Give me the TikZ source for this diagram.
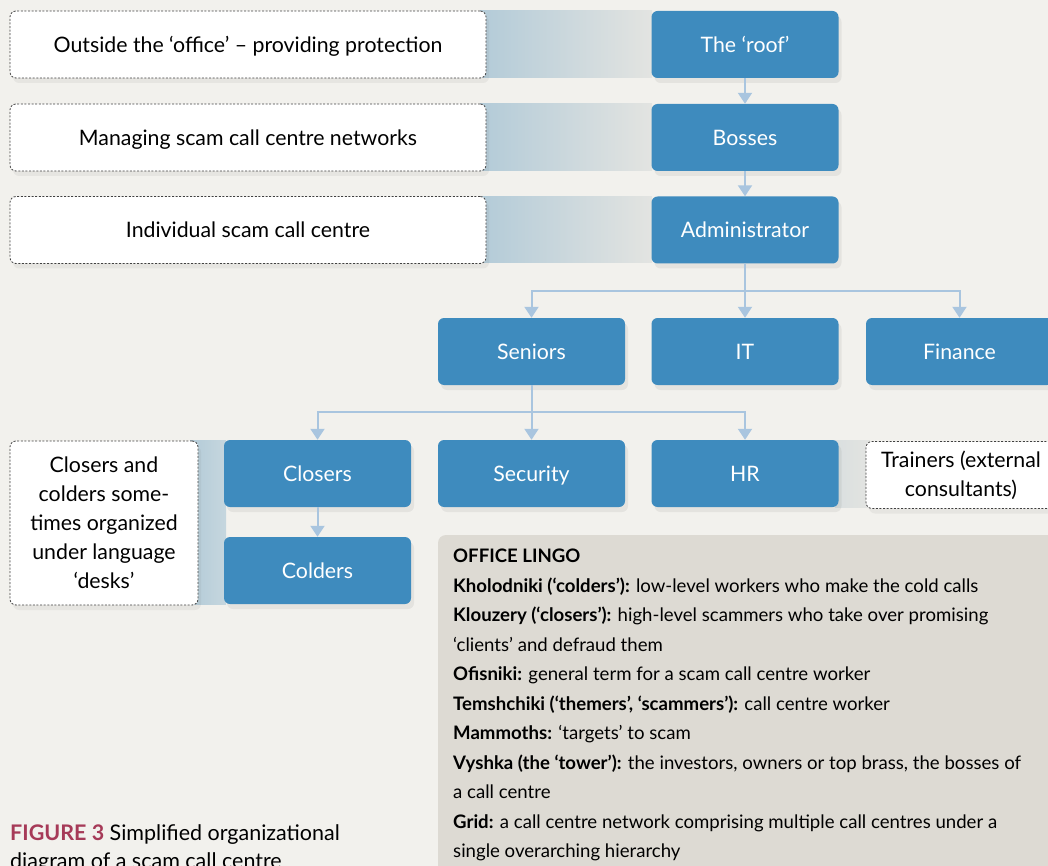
\documentclass[tikz,border=0pt]{standalone}
\usepackage{fontspec}
\setmainfont{Lato}
\usetikzlibrary{arrows.meta, positioning, shadows}
\definecolor{pagegray}{HTML}{F2F1ED}
\definecolor{boxblue}{HTML}{3E8BBE}
\definecolor{linkblue}{HTML}{A9C5DF}
\definecolor{bandblue}{HTML}{B3CBD8}
\definecolor{bandfade}{HTML}{E3E4E1}
\definecolor{lingogray}{HTML}{DDDAD3}
\definecolor{figred}{HTML}{A63A58}

\begin{document}
\begin{tikzpicture}[
  x=1pt, y=-1pt,
  font=\fontsize{21.3}{29}\selectfont,
  rank/.style={rectangle, rounded corners=6pt, minimum width=187pt, minimum height=67pt,
    inner sep=0pt, fill=boxblue, text=white, text height=15.3pt, text depth=0pt,
    drop shadow={opacity=0.12, shadow xshift=3pt, shadow yshift=-5pt}},
  note/.style={rectangle, rounded corners=6pt, draw=black!75, line width=0.8pt,
    dash pattern=on 2pt off 1.6pt, fill=white, align=center, inner sep=0pt,
    drop shadow={opacity=0.10, shadow xshift=3pt, shadow yshift=-5pt}},
  link/.style={draw=linkblue, line width=2pt, -{Triangle[width=14pt, length=11pt]}},
  line/.style={draw=linkblue, line width=2pt},
]

% === Page ===
\fill[pagegray] (0,0) rectangle (1048,866);
\useasboundingbox (0,0) rectangle (1048,866);

% === Bands behind the notes ===
\shade[left color=bandblue, right color=bandfade] (480,11)  rectangle (652,78);
\shade[left color=bandblue, right color=bandfade] (480,104) rectangle (652,171);
\shade[left color=bandblue, right color=bandfade] (480,197) rectangle (652,263);
\shade[left color=bandblue, right color=bandblue!70!pagegray] (190,440) rectangle (226,604);
\shade[left color=bandfade!80!bandblue, right color=bandfade] (835,440) rectangle (870,507);

% === Hierarchy ===
\node[rank] (roof)     at (745,44.5)  {The ‘roof’};
\node[rank] (bosses)   at (745,137.5) {Bosses};
\node[rank] (admin)    at (745,230)   {Administrator};
\node[rank] (seniors)  at (531.5,351.5) {Seniors};
\node[rank] (it)       at (745,351.5) {IT};
\node[rank] (finance)  at (959.5,351.5) {Finance};
\node[rank] (closers)  at (317.5,473.5) {Closers};
\node[rank] (security) at (531.5,473.5) {Security};
\node[rank] (hr)       at (745,473.5) {HR};
\node[rank] (colders)  at (317.5,570.5) {Colders};

% === Notes ===
\node[note, minimum width=476pt, minimum height=67pt, text height=15.3pt, text depth=0pt] (outside)
  at (248,44.5)  {Outside the ‘office’ – providing protection};
\node[note, minimum width=476pt, minimum height=67pt, text height=15.3pt, text depth=0pt] (managing)
  at (248,137.5) {Managing scam call centre networks};
\node[note, minimum width=476pt, minimum height=67pt, text height=15.3pt, text depth=0pt] (individual)
  at (248,230)   {Individual scam call centre};
\node[note, minimum width=188pt, minimum height=164pt] (desks) at (104,523)
  {Closers and\\colders some-\\times organized\\under language\\‘desks’};
\node[note, minimum width=190pt, minimum height=67pt] (trainers) at (961,475)
  {Trainers (external\\consultants)};

% === Connectors ===
\coordinate (fanA) at (745,291);
\coordinate (fanB) at (531.5,412);
\draw[link] (roof.south) -- (bosses.north);
\draw[link] (bosses.south) -- (admin.north);
\draw[line] (admin.south) -- (fanA);
\draw[link] (fanA) -| (seniors.north);
\draw[link] (fanA) -- (it.north);
\draw[link] (fanA) -| (finance.north);
\draw[line] (seniors.south) -- (fanB);
\draw[link] (fanB) -| (closers.north);
\draw[link] (fanB) -- (security.north);
\draw[link] (fanB) -| (hr.north);
\draw[link] (closers.south) -- (colders.north);

% === Office lingo ===
\fill[lingogray, rounded corners=8pt] (438,535) rectangle (1070,890);
\node[anchor=north west, align=left, inner sep=0pt, font=\fontsize{18.6}{29.5}\selectfont] (lingo) at (453,549) {%
  \textbf{OFFICE LINGO}\\
  \textbf{Kholodniki (‘colders’):} low-level workers who make the cold calls\\
  \textbf{Klouzery (‘closers’):} high-level scammers who take over promising\\
  ‘clients’ and defraud them\\
  \textbf{Ofisniki:} general term for a scam call centre worker\\
  \textbf{Temshchiki (‘themers’, ‘scammers’):} call centre worker\\
  \textbf{Mammoths:} ‘targets’ to scam\\
  \textbf{Vyshka (the ‘tower’):} the investors, owners or top brass, the bosses of\\
  a call centre\\
  \textbf{Grid:} a call centre network comprising multiple call centres under a\\
  single overarching hierarchy};

% === Caption ===
\node[anchor=north west, align=left, inner sep=0pt, font=\fontsize{21.5}{28}\selectfont] (caption) at (10,824) {%
  \textcolor{figred}{\textbf{FIGURE 3}} Simplified organizational\\
  diagram of a scam call centre};

\end{tikzpicture}
\end{document}
